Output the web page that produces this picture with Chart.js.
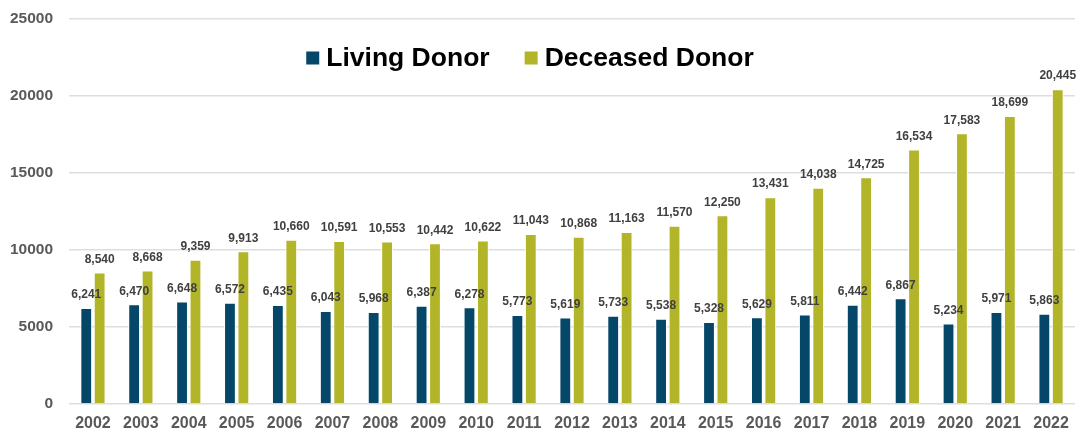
<!DOCTYPE html>
<html>
<head>
<meta charset="utf-8">
<script src="https://cdn.jsdelivr.net/npm/chart.js@4.4.0/dist/chart.umd.min.js"></script>
<style>
  html, body { margin: 0; padding: 0; background: #fff; }
  #wrap { width: 1090px; height: 431px; }
</style>
</head>
<body>
<div id="wrap"><canvas id="chart" width="1090" height="431"></canvas></div>
<script>
// Chart data
const years = ["2002", "2003", "2004", "2005", "2006", "2007", "2008", "2009", "2010", "2011",
    "2012", "2013", "2014", "2015", "2016", "2017", "2018", "2019", "2020", "2021", "2022"];
const livingDonor = [6241, 6470, 6648, 6572, 6435, 6043, 5968, 6387, 6278, 5773,
    5619, 5733, 5538, 5328, 5629, 5811, 6442, 6867, 5234, 5971, 5863];
const deceasedDonor = [8540, 8668, 9359, 9913, 10660, 10591, 10553, 10442, 10622, 11043,
    10868, 11163, 11570, 12250, 13431, 14038, 14725, 16534, 17583, 18699, 20445];
const yTicks = [0, 5000, 10000, 15000, 20000, 25000];

const FONT = "'Liberation Sans', Arial, sans-serif";

// Value labels above each bar
const barLabels = {
    id: "barLabels",
    afterDatasetsDraw(chart) {
        const ctx = chart.ctx;
        ctx.save();
        ctx.font = "bold 12px " + FONT;
        ctx.fillStyle = "#404040";
        ctx.textAlign = "center";
        ctx.textBaseline = "bottom";
        chart.data.datasets.forEach((ds, i) => {
            chart.getDatasetMeta(i).data.forEach((bar, j) => {
                ctx.fillText(ds.data[j].toLocaleString("en-US"), bar.x, bar.y - 7);
            });
        });
        ctx.restore();
    }
};

// Legend drawn inside the plot, near the top
const insideLegend = {
    id: "insideLegend",
    afterDraw(chart) {
        const ctx = chart.ctx;
        const box = 13, gap = 7, spacing = 35;
        ctx.save();
        ctx.font = "bold 26.5px " + FONT;
        ctx.textBaseline = "middle";
        const items = chart.data.datasets.map(ds => ({
            text: ds.label, color: ds.backgroundColor, w: ctx.measureText(ds.label).width
        }));
        let total = items.reduce((s, it) => s + box + gap + it.w, 0) + spacing * (items.length - 1);
        let x = 530 - total / 2;
        const y = 58;
        items.forEach(it => {
            ctx.fillStyle = it.color;
            ctx.fillRect(x, y - box / 2, box, box);
            ctx.fillStyle = "#000";
            ctx.textAlign = "left";
            ctx.fillText(it.text, x + box + gap, y + 1);
            x += box + gap + it.w + spacing;
        });
        ctx.restore();
    }
};

new Chart(document.getElementById("chart"), {
    type: "bar",
    data: {
        labels: years,
        datasets: [
            {
                label: "Living Donor",
                data: livingDonor,
                backgroundColor: "#044769",
                borderColor: "#ffffff",
                borderWidth: 1,
                categoryPercentage: 0.56,
                barPercentage: 0.88
            },
            {
                label: "Deceased Donor",
                data: deceasedDonor,
                backgroundColor: "#b2b527",
                borderColor: "#ffffff",
                borderWidth: 1,
                categoryPercentage: 0.56,
                barPercentage: 0.88
            }
        ]
    },
    options: {
        responsive: false,
        animation: false,
        layout: { padding: { top: 0, right: 15, left: 0, bottom: 0 } },
        plugins: {
            legend: { display: false },
            tooltip: { enabled: false }
        },
        scales: {
            x: {
                grid: { display: false },
                border: { display: false },
                ticks: {
                    color: "#595959",
                    font: { family: FONT, size: 16, weight: "bold" },
                    padding: 2
                },
                afterFit(scale) { scale.height = 27; }
            },
            y: {
                min: 0,
                max: 25000,
                afterBuildTicks(scale) { scale.ticks = yTicks.map(v => ({ value: v })); },
                grid: { color: "#dedede", lineWidth: 1.5, drawTicks: false },
                border: { display: false },
                ticks: {
                    color: "#595959",
                    font: { family: FONT, size: 15.5, weight: "bold" },
                    padding: 16,
                    callback: v => String(v)
                },
                afterFit(scale) {
                    scale.width = 69;
                    scale.paddingTop = 19;
                    scale.paddingBottom = 0;
                }
            }
        }
    },
    plugins: [barLabels, insideLegend]
});
</script>
</body>
</html>
